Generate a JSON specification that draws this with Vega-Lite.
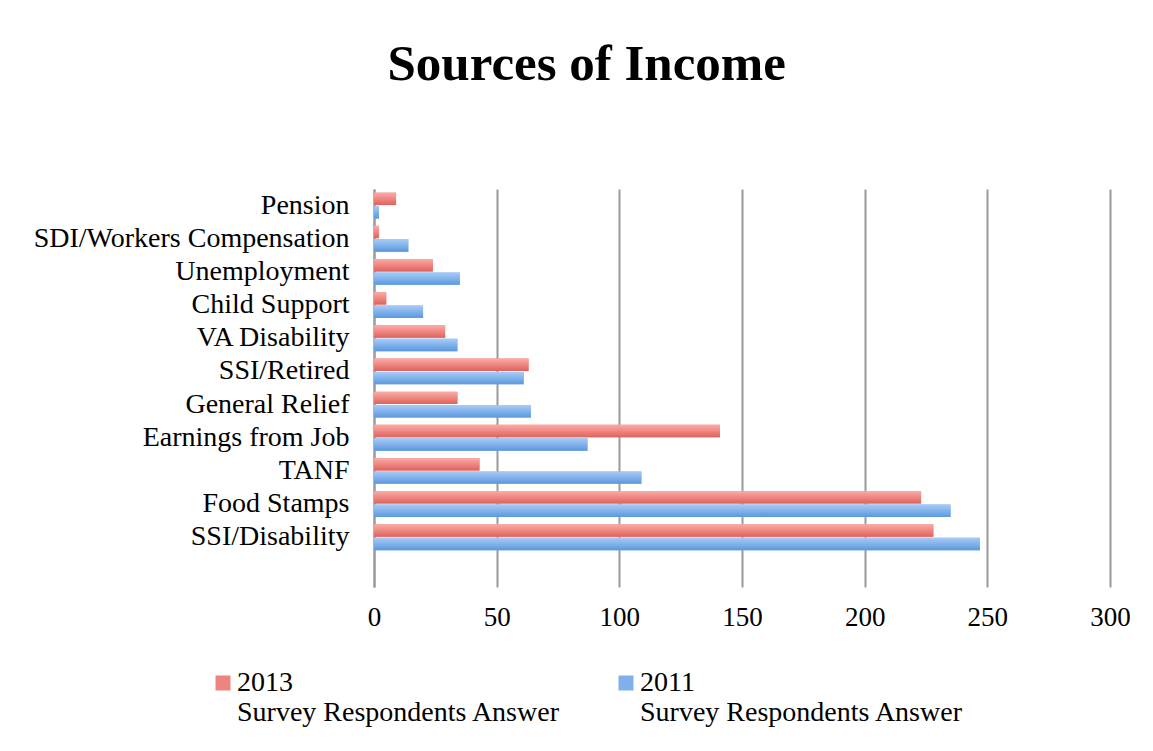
{
  "$schema": "https://vega.github.io/schema/vega-lite/v6.json",
  "width": 736,
  "height": 398,
  "autosize": "none",
  "padding": {"left": 374, "top": 189, "right": 43, "bottom": 164},
  "background": "white",
  "title": {
    "text": "Sources of Income",
    "font": "Liberation Serif",
    "fontSize": 51,
    "fontWeight": "bold",
    "color": "black",
    "anchor": "middle",
    "frame": "bounds",
    "baseline": "alphabetic",
    "offset": 58,
    "dx": 5
  },
  "data": {
    "values": [
      {"source": "Pension", "year": "2013", "count": 9},
      {"source": "Pension", "year": "2011", "count": 2},
      {"source": "SDI/Workers Compensation", "year": "2013", "count": 2},
      {"source": "SDI/Workers Compensation", "year": "2011", "count": 14},
      {"source": "Unemployment", "year": "2013", "count": 24},
      {"source": "Unemployment", "year": "2011", "count": 35},
      {"source": "Child Support", "year": "2013", "count": 5},
      {"source": "Child Support", "year": "2011", "count": 20},
      {"source": "VA Disability ", "year": "2013", "count": 29},
      {"source": "VA Disability ", "year": "2011", "count": 34},
      {"source": "SSI/Retired", "year": "2013", "count": 63},
      {"source": "SSI/Retired", "year": "2011", "count": 61},
      {"source": "General Relief", "year": "2013", "count": 34},
      {"source": "General Relief", "year": "2011", "count": 64},
      {"source": "Earnings from Job", "year": "2013", "count": 141},
      {"source": "Earnings from Job", "year": "2011", "count": 87},
      {"source": "TANF", "year": "2013", "count": 43},
      {"source": "TANF", "year": "2011", "count": 109},
      {"source": "Food Stamps", "year": "2013", "count": 223},
      {"source": "Food Stamps", "year": "2011", "count": 235},
      {"source": "SSI/Disability", "year": "2013", "count": 228},
      {"source": "SSI/Disability", "year": "2011", "count": 247}
    ]
  },
  "encoding": {
    "y": {
      "field": "source",
      "type": "nominal",
      "scale": {
        "domain": ["Pension", "SDI/Workers Compensation", "Unemployment", "Child Support", "VA Disability ", "SSI/Retired", "General Relief", "Earnings from Job", "TANF", "Food Stamps", "SSI/Disability", " "],
        "paddingInner": 0.22,
        "paddingOuter": 0.11
      },
      "axis": {
        "title": null,
        "ticks": false,
        "domain": true,
        "domainColor": "#9a9a9a",
        "domainWidth": 2,
        "labelFont": "Liberation Serif",
        "labelFontSize": 28,
        "labelColor": "black",
        "labelPadding": 25,
        "labelLimit": 400
      }
    },
    "yOffset": {
      "field": "year",
      "type": "nominal",
      "scale": {"domain": ["2013", "2011"], "paddingInner": 0.08}
    },
    "x": {
      "field": "count",
      "type": "quantitative",
      "scale": {"domain": [0, 300], "nice": false},
      "axis": {
        "title": null,
        "values": [0, 50, 100, 150, 200, 250, 300],
        "grid": true,
        "gridColor": "#9a9a9a",
        "gridWidth": 2,
        "domain": false,
        "ticks": false,
        "labelFont": "Liberation Serif",
        "labelFontSize": 27,
        "labelColor": "black",
        "labelPadding": 17,
        "labelFlush": false
      }
    }
  },
  "layer": [
    {
      "mark": {"type": "bar", "opacity": 1},
      "encoding": {
        "color": {
          "field": "year",
          "type": "nominal",
          "scale": {"domain": ["2013", "2011"], "range": ["#ee8480", "#7fb0ec"]},
          "legend": {
            "title": null,
            "orient": "none",
            "legendX": -165,
            "legendY": 480,
            "padding": 0,
            "direction": "horizontal",
            "columns": 2,
            "columnPadding": 51,
            "symbolType": "square",
            "symbolSize": 225,
            "symbolStrokeWidth": 0,
            "labelFont": "Liberation Serif",
            "labelFontSize": 28,
            "labelColor": "black",
            "labelLimit": 500,
            "labelOffset": 0,
            "labelBaseline": "middle",
            "labelExpr": "[datum.label, 'Survey Respondents Answer']"
          }
        }
      }
    },
    {
      "mark": {"type": "bar"},
      "encoding": {
        "fill": {
          "condition": {
            "test": "datum.year === '2013'",
            "value": {"gradient": "linear", "x1": 0, "y1": 0, "x2": 0, "y2": 1, "stops": [{"offset": 0, "color": "#fbaba7"}, {"offset": 1, "color": "#e0625c"}]}
          },
          "value": {"gradient": "linear", "x1": 0, "y1": 0, "x2": 0, "y2": 1, "stops": [{"offset": 0, "color": "#a8cbf7"}, {"offset": 1, "color": "#5a98de"}]}
        }
      }
    }
  ],
  "config": {
    "view": {"stroke": null},
    "axis": {"gridCap": "butt"}
  }
}
